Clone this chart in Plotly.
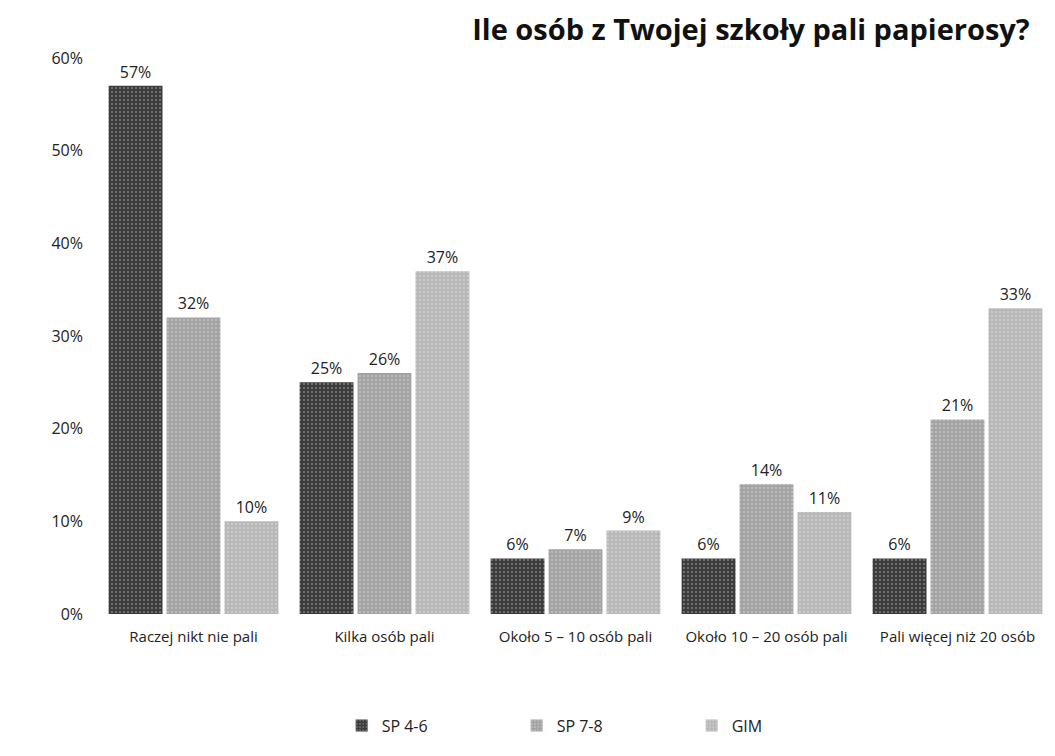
import plotly.graph_objects as go

categories = ["Raczej nikt nie pali", "Kilka osób pali", "Około 5 – 10 osób pali",
              "Około 10 – 20 osób pali", "Pali więcej niż 20 osób"]
sp46 = [57, 25, 6, 6, 6]
sp78 = [32, 26, 7, 14, 21]
gim = [10, 37, 9, 11, 33]
series_names = ["SP 4-6", "SP 7-8", "GIM"]
colors = ["#3c3c3c", "#a3a3a3", "#b8b8b8"]

fig = go.Figure()
for name, vals, col in zip(series_names, [sp46, sp78, gim], colors):
    fig.add_trace(go.Bar(
        x=categories, y=vals, name=name,
        marker=dict(color=col, line=dict(width=0),
                    pattern=dict(shape=".", fgcolor="#ffffff", fgopacity=0.35, size=4, solidity=0.2)),
        text=[f"{v}%" for v in vals], textposition="outside",
        textfont=dict(size=16, color="#222", family="Open Sans"),
        cliponaxis=False,
    ))

fig.update_layout(
    width=1055, height=756,
    paper_bgcolor="white", plot_bgcolor="white",
    barmode="group", bargap=0.09, bargroupgap=0.07,
    margin=dict(l=90, r=10, t=50, b=150),
    font=dict(family="Open Sans", color="#222"),
    title=dict(text="<b>Ile osób z Twojej szkoły pali papierosy?</b>",
               x=0.44, xanchor="left", y=0.985, yanchor="top",
               font=dict(size=29, family="Open Sans", color="#111")),
    showlegend=True,
    legend=dict(orientation="h", x=0.53, xanchor="center", y=-0.17, yanchor="top",
                font=dict(size=16, family="Open Sans"),
                entrywidth=130, traceorder="normal"),
    yaxis=dict(range=[0, 60], dtick=10, ticksuffix="%", showgrid=False,
               zeroline=False, showline=False, tickfont=dict(size=16), ticklabelstandoff=14),
    xaxis=dict(showgrid=False, showline=False, tickfont=dict(size=15), ticklabelstandoff=12),
)

fig.write_html("out.html")
